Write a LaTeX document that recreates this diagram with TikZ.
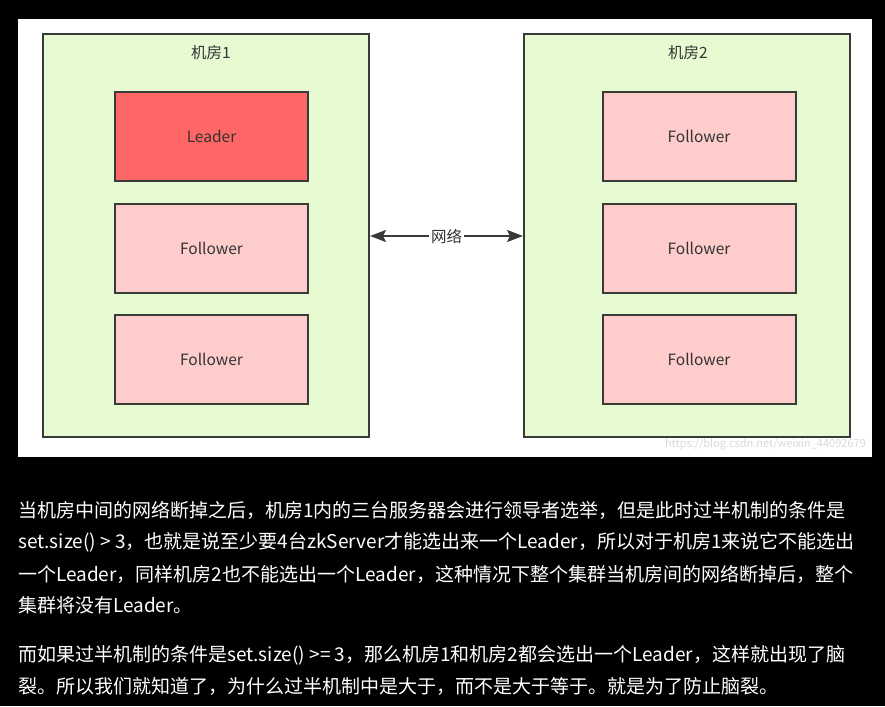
\documentclass[tikz,border=0pt]{standalone}
\usepackage{fontspec}
\setmainfont{Noto Sans CJK SC}
\newfontfamily\cjk{Noto Sans CJK SC}
\usetikzlibrary{arrows.meta}
\definecolor{roomfill}{HTML}{E6FBD2}
\definecolor{leadfill}{HTML}{FF6666}
\definecolor{follfill}{HTML}{FFCCCC}
\definecolor{edge}{HTML}{3A3A3A}
\definecolor{txt}{HTML}{333333}
\tikzset{
  room/.style={draw=edge, line width=2pt, fill=roomfill},
  srv/.style={draw=edge, line width=2pt, minimum width=193pt, minimum height=89pt, inner sep=0pt, font=\fontsize{15.5}{15.5}\selectfont, text=txt},
  para/.style={anchor=west, inner sep=0pt, text=white, font=\fontsize{19}{19}\selectfont},
  tip/.tip={Stealth[length=16pt,width=12pt,inset=3pt]}
}
\begin{document}
\begin{tikzpicture}[x=1pt,y=-1pt]
\fill[black] (0,0) rectangle (885,706);
\useasboundingbox (0,0) rectangle (885,706);
\fill[white] (18,19) rectangle (872,457);
% rooms
\draw[room] (43,34) rectangle (369,437);
\draw[room] (524,34) rectangle (850,437);
\node[text=txt, font=\fontsize{15.5}{15.5}\selectfont] (t1) at (211,53) {机房1};
\node[text=txt, font=\fontsize{15.5}{15.5}\selectfont] (t2) at (688,53) {机房2};
% servers
\node[srv, fill=leadfill] (l1) at (211.5,136.5) {Leader};
\node[srv, fill=follfill] (f12) at (211.5,248) {Follower};
\node[srv, fill=follfill] (f13) at (211.5,359.5) {Follower};
\node[srv, fill=follfill] (f21) at (699,136.5) {Follower};
\node[srv, fill=follfill] (f22) at (699,248) {Follower};
\node[srv, fill=follfill] (f23) at (699,359.5) {Follower};
% network
\coordinate (a1) at (370,236);
\coordinate (a2) at (523,236);
\draw[edge, line width=2pt, {tip}-{tip}] (a1) -- (a2)
  node[midway, fill=white, inner sep=2pt, text=txt, font=\fontsize{15.5}{15.5}\selectfont] (net) {网络};
% watermark
\node[anchor=east, text=black!15, font=\fontsize{11}{11}\selectfont, inner sep=0pt] (wm) at (866,444) {https://blog.csdn.net/weixin\_44092679};
% paragraphs
\node[para] (p1) at (18,510) {当机房中间的网络断掉之后，机房1内的三台服务器会进行领导者选举，但是此时过半机制的条件是};
\node[para] (p2) at (18,542) {set.size() > 3，也就是说至少要4台zkServer才能选出来一个Leader，所以对于机房1来说它不能选出};
\node[para] (p3) at (18,574) {一个Leader，同样机房2也不能选出一个Leader，这种情况下整个集群当机房间的网络断掉后，整个};
\node[para] (p4) at (18,605) {集群将没有Leader。};
\node[para] (p5) at (18,655) {而如果过半机制的条件是set.size() >= 3，那么机房1和机房2都会选出一个Leader，这样就出现了脑};
\node[para] (p6) at (18,686) {裂。所以我们就知道了，为什么过半机制中是大于，而不是大于等于。就是为了防止脑裂。};
\end{tikzpicture}
\end{document}
